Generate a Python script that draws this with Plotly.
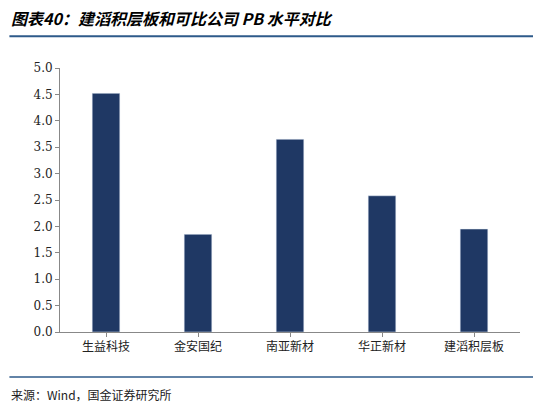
import plotly.graph_objects as go

companies = ["生益科技", "金安国纪", "南亚新材", "华正新材", "建滔积层板"]
pb = [4.52, 1.85, 3.65, 2.58, 1.95]
y_ticks = [0, 0.5, 1.0, 1.5, 2.0, 2.5, 3.0, 3.5, 4.0, 4.5, 5.0]

fig = go.Figure()
fig.add_trace(go.Bar(x=companies, y=pb, marker_color="#1f3864", width=0.3))

fig.update_layout(
    width=541, height=416,
    margin=dict(l=52, r=29, t=60, b=92),
    plot_bgcolor="white", paper_bgcolor="white",
    font=dict(family="Noto Sans CJK SC", size=12, color="#222"),
    showlegend=False,
)
fig.update_yaxes(range=[0, 5], tickvals=y_ticks,
                 ticktext=[f"{v:.1f}" for v in y_ticks],
                 showline=True, linecolor="#888", ticks="outside",
                 ticklen=4, tickcolor="#888", showgrid=False,
                 tickfont=dict(family="DejaVu Serif", size=12))
fig.update_xaxes(showline=True, linecolor="#888", ticks="outside",
                 tickcolor="#888", ticklen=4, showgrid=False)

fig.add_annotation(text="<b><i>图表40：建滔积层板和可比公司 PB 水平对比</i></b>",
                   xref="paper", yref="paper", x=-0.11, y=1.19,
                   xanchor="left", yanchor="middle", showarrow=False,
                   font=dict(size=16, color="black"))
fig.add_shape(type="line", xref="paper", yref="paper",
              x0=-0.11, x1=1.06, y0=1.12, y1=1.12,
              line=dict(color="#2e5a8a", width=2))
fig.add_shape(type="line", xref="paper", yref="paper",
              x0=-0.11, x1=1.06, y0=-0.17, y1=-0.17,
              line=dict(color="#2e5a8a", width=1.5))
fig.add_annotation(text="来源：Wind，国金证券研究所",
                   xref="paper", yref="paper", x=-0.11, y=-0.235,
                   xanchor="left", yanchor="middle", showarrow=False,
                   font=dict(size=12, color="#222"))

fig.write_html("out.html")
